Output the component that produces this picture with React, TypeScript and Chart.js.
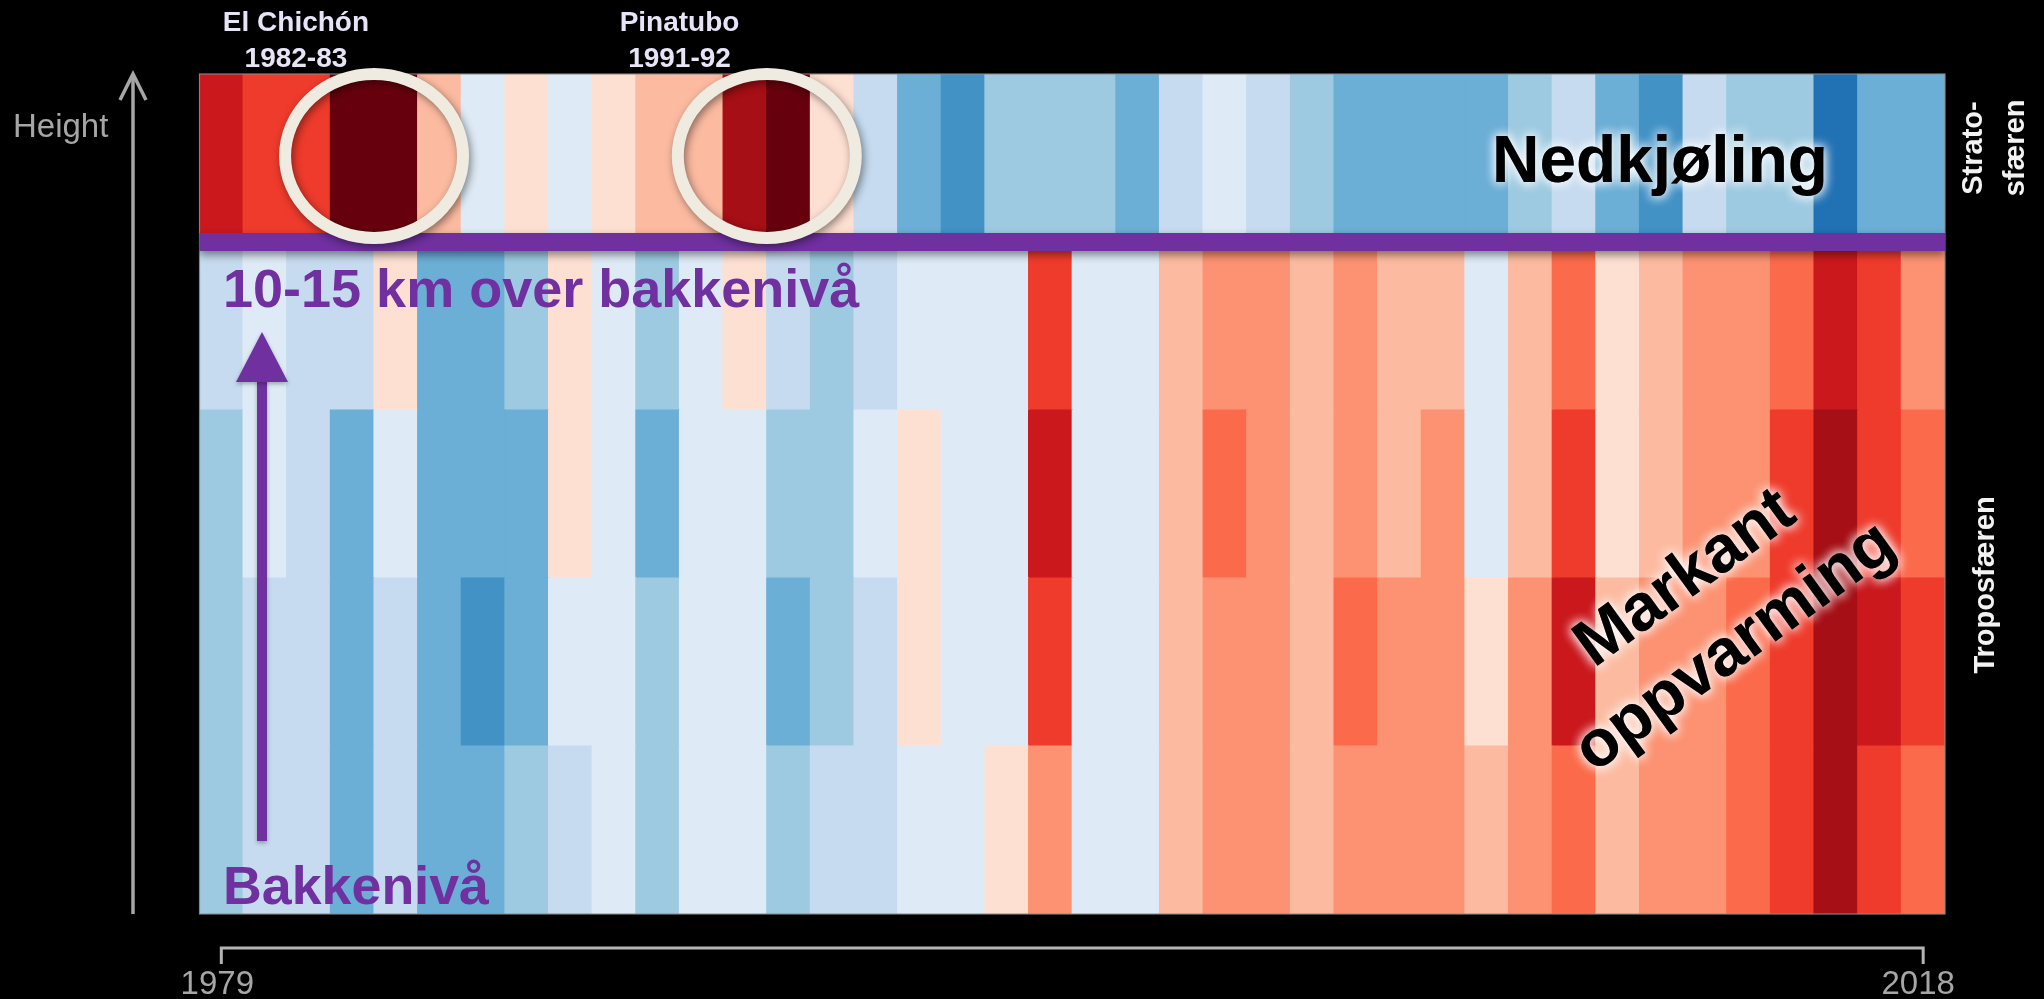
import React, { useEffect, useRef } from 'react';
import { Chart, registerables } from 'chart.js';

Chart.register(...registerables);

// Years (categories)
const years = [
  1979, 1980, 1981, 1982, 1983, 1984, 1985, 1986, 1987, 1988,
  1989, 1990, 1991, 1992, 1993, 1994, 1995, 1996, 1997, 1998,
  1999, 2000, 2001, 2002, 2003, 2004, 2005, 2006, 2007, 2008,
  2009, 2010, 2011, 2012, 2013, 2014, 2015, 2016, 2017, 2018,
];
const tickLabels = ['1979', '2018'];

// Anomaly classes (negative = cooling/blue, positive = warming/red)
const stratosphere = [6, 5, 5, 8, 8, 2, -1, 1, -1, 1, 2, 2, 7, 8, 1, -2, -4, -5, -3, -3, -3, -4, -2, -1, -2, -3, -4, -4, -4, -4, -3, -2, -4, -5, -2, -3, -3, -6, -4, -4];
const tropoUpper = [-2, -1, -2, -2, 1, -4, -4, -3, 1, -1, -3, -1, 1, -2, -3, -2, -1, -1, -1, 5, -1, -1, 2, 3, 3, 2, 3, 2, 2, -1, 2, 4, 1, 2, 3, 3, 4, 6, 5, 3];
const tropoMidHigh = [-3, -1, -2, -4, -1, -4, -4, -4, 1, -1, -4, -1, -1, -3, -3, -1, 1, -1, -1, 6, -1, -1, 2, 4, 3, 2, 3, 2, 3, -1, 2, 5, 1, 2, 3, 3, 5, 7, 5, 4];
const tropoMidLow = [-3, -2, -2, -4, -2, -4, -5, -4, -1, -1, -3, -1, -1, -4, -3, -2, 1, -1, -1, 5, -1, -1, 2, 3, 3, 2, 4, 3, 3, 1, 3, 6, 2, 3, 3, 4, 5, 7, 6, 5];
const groundLevel = [-3, -2, -2, -4, -2, -4, -4, -3, -2, -1, -3, -1, -1, -3, -2, -2, -1, -1, 1, 3, -1, -1, 2, 3, 3, 2, 3, 3, 3, 2, 3, 4, 2, 3, 3, 4, 5, 7, 5, 4];

const rowNames = ['Bakkenivå', 'Nivå 2', 'Nivå 3', '10-15 km', 'Stratosfæren'];

const blues = ['#deebf7', '#c6dbef', '#9ecae1', '#6baed6', '#4292c6', '#2171b5'];
const reds = ['#fee0d2', '#fcbba1', '#fc9272', '#fb6a4a', '#ef3b2c', '#cb181d', '#a50f15', '#67000d'];

function colorFor(level: number): string {
  if (level < 0) return blues[Math.min(-level, blues.length) - 1];
  if (level > 0) return reds[Math.min(level, reds.length) - 1];
  return '#f7f7f7';
}

const PURPLE = '#7030a0';
const FONT = '"Liberation Sans", Arial, Helvetica, sans-serif';

const annotations = {
  id: 'annotations',
  afterDatasetsDraw(chart: any) {
    const ctx: CanvasRenderingContext2D = chart.ctx;
    const xs = chart.scales.x;
    const ys = chart.scales.y;
    const area = chart.chartArea;

    // thin border around heatmap
    ctx.save();
    ctx.strokeStyle = 'rgba(140,140,140,0.9)';
    ctx.lineWidth = 1.2;
    ctx.strokeRect(area.left, area.top, area.right - area.left, area.bottom - area.top);
    ctx.restore();

    // purple separator bar between stratosphere and troposphere
    const yb = ys.getPixelForValue(4);
    ctx.save();
    ctx.shadowColor = 'rgba(0,0,0,0.45)';
    ctx.shadowBlur = 8;
    ctx.shadowOffsetY = 4;
    ctx.fillStyle = PURPLE;
    ctx.fillRect(area.left, yb - 9, area.right - area.left, 18);
    ctx.restore();

    // volcano circles
    const cy = ys.getPixelForValue(4.5) - 2;
    const drawRing = (cx: number) => {
      ctx.save();
      ctx.shadowColor = 'rgba(0,0,0,0.45)';
      ctx.shadowBlur = 8;
      ctx.shadowOffsetX = 2;
      ctx.shadowOffsetY = 3;
      ctx.strokeStyle = '#efebe1';
      ctx.lineWidth = 12;
      ctx.beginPath();
      ctx.ellipse(cx, cy, 89, 82, 0, 0, Math.PI * 2);
      ctx.stroke();
      ctx.restore();
    };
    drawRing(xs.getPixelForValue(3.5));
    drawRing(xs.getPixelForValue(12.5));

    // volcano labels
    ctx.save();
    ctx.fillStyle = '#e6e4f6';
    ctx.font = `bold 28px ${FONT}`;
    ctx.textAlign = 'center';
    ctx.textBaseline = 'alphabetic';
    const c1 = xs.getPixelForValue(1.71);
    ctx.fillText('El Chichón', c1, 31);
    ctx.fillText('1982-83', c1, 67);
    const c2 = xs.getPixelForValue(10.5);
    ctx.fillText('Pinatubo', c2, 31);
    ctx.fillText('1991-92', c2, 67);
    ctx.restore();

    // Nedkjøling
    ctx.save();
    ctx.font = `bold 67px ${FONT}`;
    ctx.textAlign = 'center';
    ctx.textBaseline = 'alphabetic';
    ctx.shadowColor = 'rgba(255,255,255,0.95)';
    ctx.shadowBlur = 12;
    ctx.fillStyle = '#000';
    ctx.fillText('Nedkjøling', 1660, 182, 336);
    ctx.fillText('Nedkjøling', 1660, 182, 336);
    ctx.restore();

    // Markant oppvarming
    ctx.save();
    ctx.translate(1711, 624);
    ctx.rotate((-36 * Math.PI) / 180);
    ctx.font = `bold 66px ${FONT}`;
    ctx.textAlign = 'center';
    ctx.textBaseline = 'alphabetic';
    ctx.shadowColor = 'rgba(255,255,255,0.95)';
    ctx.shadowBlur = 12;
    ctx.fillStyle = '#000';
    for (let k = 0; k < 2; k++) {
      ctx.fillText('Markant', 6, -33);
      ctx.fillText('oppvarming', 6, 52);
    }
    ctx.restore();

    // purple labels
    ctx.save();
    ctx.fillStyle = PURPLE;
    ctx.font = `bold 54px ${FONT}`;
    ctx.textAlign = 'left';
    ctx.textBaseline = 'alphabetic';
    ctx.fillText('10-15 km over bakkenivå', 223, 307, 640);
    ctx.fillText('Bakkenivå', 223, 904, 266);
    ctx.restore();

    // purple arrow
    ctx.save();
    ctx.shadowColor = 'rgba(0,0,0,0.3)';
    ctx.shadowBlur = 4;
    ctx.shadowOffsetY = 2;
    ctx.strokeStyle = PURPLE;
    ctx.fillStyle = PURPLE;
    ctx.lineWidth = 10;
    ctx.beginPath();
    ctx.moveTo(262, 841);
    ctx.lineTo(262, 378);
    ctx.stroke();
    ctx.beginPath();
    ctx.moveTo(262, 332);
    ctx.lineTo(288, 382);
    ctx.lineTo(236, 382);
    ctx.closePath();
    ctx.fill();
    ctx.restore();

    // right side labels
    ctx.save();
    ctx.fillStyle = '#f2f2f2';
    ctx.font = `bold 29px ${FONT}`;
    ctx.textAlign = 'center';
    ctx.textBaseline = 'middle';
    const sy = ys.getPixelForValue(4.5) - 10;
    ctx.save();
    ctx.translate(1974, sy);
    ctx.rotate(-Math.PI / 2);
    ctx.fillText('Strato-', 0, 0);
    ctx.restore();
    ctx.save();
    ctx.translate(2016, sy);
    ctx.rotate(-Math.PI / 2);
    ctx.fillText('sfæren', 0, 0);
    ctx.restore();
    ctx.save();
    ctx.translate(1986, ys.getPixelForValue(2) + 7);
    ctx.rotate(-Math.PI / 2);
    ctx.fillText('Troposfæren', 0, 0);
    ctx.restore();
    ctx.restore();

    // Height label + gray arrow
    ctx.save();
    ctx.fillStyle = '#a6a6a6';
    ctx.font = `33px ${FONT}`;
    ctx.textAlign = 'left';
    ctx.textBaseline = 'alphabetic';
    ctx.fillText('Height', 13, 137);
    ctx.strokeStyle = '#a6a6a6';
    ctx.lineWidth = 3.5;
    ctx.lineCap = 'butt';
    ctx.beginPath();
    ctx.moveTo(133, area.bottom);
    ctx.lineTo(133, area.top + 1);
    ctx.stroke();
    ctx.beginPath();
    ctx.moveTo(120, area.top + 26);
    ctx.lineTo(133, area.top);
    ctx.lineTo(146, area.top + 26);
    ctx.stroke();
    ctx.restore();

    // bottom bracket + year labels
    const x0 = xs.getPixelForValue(0);
    const x1 = xs.getPixelForValue(years.length - 1);
    ctx.save();
    ctx.strokeStyle = '#b3b3b3';
    ctx.lineWidth = 3;
    ctx.beginPath();
    ctx.moveTo(x0, 964);
    ctx.lineTo(x0, 948);
    ctx.lineTo(x1, 948);
    ctx.lineTo(x1, 964);
    ctx.stroke();
    ctx.fillStyle = '#a6a6a6';
    ctx.font = `33px ${FONT}`;
    ctx.textAlign = 'center';
    ctx.textBaseline = 'alphabetic';
    ctx.fillText(tickLabels[0], x0 - 4, 994);
    ctx.fillText(tickLabels[1], x1 - 5, 994);
    ctx.restore();
  },
};

export default function App() {
  const ref = useRef<HTMLCanvasElement>(null);

  useEffect(() => {
    document.body.style.margin = '0';
    document.body.style.background = '#000';
    const canvas = ref.current!;
    const rows = [groundLevel, tropoMidLow, tropoMidHigh, tropoUpper, stratosphere];
    const chart = new Chart(canvas, {
      type: 'bar',
      data: {
        labels: years.map(String),
        datasets: rows.map((r, i) => ({
          label: rowNames[i],
          data: r.map(() => 1),
          backgroundColor: r.map(colorFor),
          borderWidth: 0,
          barPercentage: 1,
          categoryPercentage: 1,
          inflateAmount: 0.6,
        })),
      },
      options: {
        responsive: false,
        animation: false,
        devicePixelRatio: 1,
        layout: { padding: { left: 199.5, right: 99, top: 74, bottom: 85 } },
        scales: {
          x: { stacked: true, display: false, grid: { display: false } },
          y: { stacked: true, display: false, min: 0, max: 5, grid: { display: false } },
        },
        plugins: {
          legend: { display: false },
          tooltip: { enabled: false },
        },
      } as any,
      plugins: [annotations],
    });
    return () => chart.destroy();
  }, []);

  return (
    <div style={{ width: 2044, height: 999, background: '#000' }}>
      <canvas ref={ref} width={2044} height={999} style={{ display: 'block' }} />
    </div>
  );
}
